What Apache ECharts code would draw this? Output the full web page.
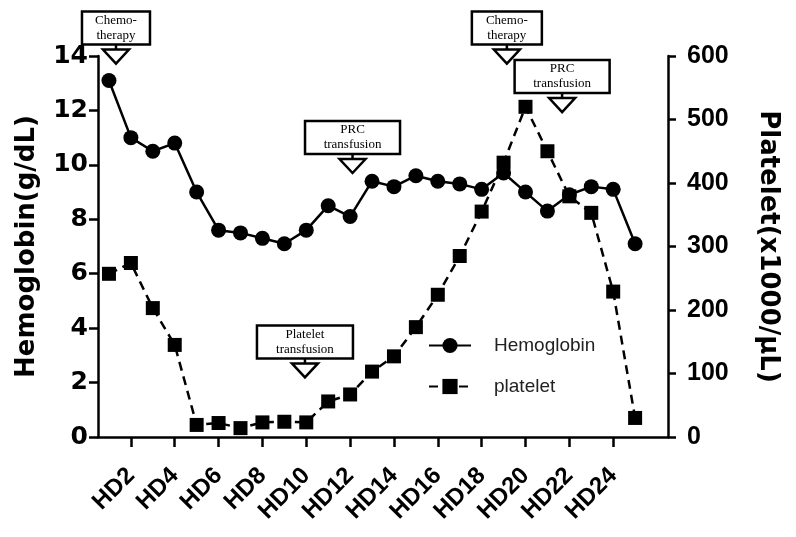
<!DOCTYPE html>
<html>
<head>
<meta charset="utf-8">
<script src="https://cdn.jsdelivr.net/npm/echarts@6/dist/echarts.min.js"></script>
<style>
  html, body { margin: 0; padding: 0; background: #fff; }
  #main { width: 796px; height: 537px; }
</style>
</head>
<body>
<div id="main"></div>
<script>
  // hospital day of each measurement
  const days = [1, 2, 3, 4, 5, 6, 7, 8, 9, 10, 11, 12, 13, 14, 15, 16, 17, 18, 19, 20, 21, 22, 23, 24, 25];
  // g/dL
  const hemoglobin = [13.1, 11.0, 10.5, 10.8, 9.0, 7.6, 7.5, 7.3, 7.1, 7.6, 8.5, 8.1, 9.4, 9.2, 9.6, 9.4, 9.3, 9.1, 9.7, 9.0, 8.3, 8.9, 9.2, 9.1, 7.1];
  // x1000/uL
  const platelet = [257, 274, 203, 145, 19, 22, 14, 23, 24, 23, 56, 67, 103, 127, 173, 224, 285, 355, 432, 520, 450, 379, 353, 229, 30];
  // labelled days on the x axis
  const tickDays = [2, 4, 6, 8, 10, 12, 14, 16, 18, 20, 22, 24];

  // event notes: text, day, and hemoglobin level where the arrow points
  const notes = ['Chemo-\ntherapy', 'PRC\ntransfusion', 'Platelet\ntransfusion', 'Chemo-\ntherapy', 'PRC\ntransfusion'];
  const noteDays = [1.32, 12.11, 9.94, 19.15, 21.67];
  const noteLevels = [13.72, 9.7, 2.19, 13.72, 11.94];
  const noteBoxW = [68, 95, 96, 70, 95];

  let chart = echarts.init(document.getElementById('main'));

  const axisFont = 'DejaVu Sans';
  const armFont = 'Liberation Sans';

  chart.setOption({
    animation: false,
    backgroundColor: '#fff',
    grid: { left: 98, right: 128, top: 56, bottom: 100 },
    legend: {
      data: ['Hemoglobin', 'platelet'],
      orient: 'vertical',
      left: 428,
      top: 336,
      padding: 0,
      itemWidth: 42,
      itemHeight: 19,
      itemGap: 22,
      textStyle: { fontSize: 19, fontFamily: armFont, color: '#222', padding: [0, 0, 0, 18] }
    },
    xAxis: {
      type: 'value',
      min: 0.5,
      max: 26.5,
      splitLine: { show: false },
      axisLine: { show: true, onZero: false, lineStyle: { color: '#000', width: 2.5 } },
      axisTick: { show: true, customValues: tickDays, length: 10, lineStyle: { color: '#000', width: 2.5 } },
      axisLabel: {
        customValues: tickDays,
        rotate: 45,
        margin: 35,
        color: '#000',
        fontSize: 24,
        fontWeight: 'bold',
        fontFamily: armFont,
        formatter: v => 'HD' + v
      }
    },
    yAxis: [
      {
        type: 'value',
        min: 0,
        max: 14,
        interval: 2,
        name: 'Hemoglobin(g/dL)',
        nameLocation: 'middle',
        nameGap: 58,
        nameTextStyle: { fontSize: 26, fontWeight: 'bold', fontFamily: axisFont, color: '#000' },
        splitLine: { show: false },
        axisLine: { show: true, lineStyle: { color: '#000', width: 2.5 } },
        axisTick: { show: true, length: 9, lineStyle: { color: '#000', width: 2.5 } },
        axisLabel: { margin: 10, color: '#000', fontSize: 25, fontWeight: 'bold', fontFamily: axisFont }
      },
      {
        type: 'value',
        position: 'right',
        min: 0,
        max: 600,
        interval: 100,
        name: 'Platelet(x1000/\u03BCL)',
        nameLocation: 'middle',
        nameRotate: -90,
        nameGap: 87,
        nameTextStyle: { fontSize: 26, fontWeight: 'bold', fontFamily: axisFont, color: '#000' },
        splitLine: { show: false },
        axisLine: { show: true, lineStyle: { color: '#000', width: 2.5 } },
        axisTick: { show: true, length: 8, lineStyle: { color: '#000', width: 2.5 } },
        axisLabel: { margin: 19, color: '#000', fontSize: 25, fontWeight: 'bold', fontFamily: armFont }
      }
    ],
    series: [
      {
        name: 'Hemoglobin',
        type: 'line',
        yAxisIndex: 0,
        symbol: 'circle',
        symbolSize: 15,
        itemStyle: { color: '#000' },
        lineStyle: { color: '#000', width: 2.5 },
        data: days.map((d, i) => [d, hemoglobin[i]])
      },
      {
        name: 'platelet',
        type: 'line',
        yAxisIndex: 1,
        symbol: 'rect',
        symbolSize: 14,
        itemStyle: { color: '#000' },
        lineStyle: { color: '#000', width: 2.5, type: [9, 6] },
        data: days.map((d, i) => [d, platelet[i]])
      }
    ]
  });

  // boxes with arrows for the clinical events
  function drawNotes() {
    let els = [];
    notes.forEach((t, i) => {
      let p = chart.convertToPixel({ xAxisIndex: 0, yAxisIndex: 0 }, [noteDays[i], noteLevels[i]]);
      let x = p[0], y = p[1];
      let triTop = y - 14;
      let boxBottom = triTop - 5;
      let boxTop = boxBottom - 33;
      let w = noteBoxW[i];
      els.push({
        type: 'polygon',
        shape: { points: [[x - 13, triTop], [x + 13, triTop], [x, y]] },
        style: { fill: '#fff', stroke: '#000', lineWidth: 2.5 },
        z: 100
      });
      els.push({
        type: 'line',
        shape: { x1: x, y1: boxBottom, x2: x, y2: triTop },
        style: { stroke: '#000', lineWidth: 2.5 },
        z: 100
      });
      els.push({
        type: 'rect',
        shape: { x: x - w / 2, y: boxTop, width: w, height: 33 },
        style: { fill: '#fff', stroke: '#000', lineWidth: 2.5 },
        z: 100
      });
      els.push({
        type: 'text',
        x: x,
        y: boxTop + 16.5,
        style: {
          text: t,
          fill: '#000',
          font: '13px "Liberation Serif"',
          lineHeight: 15,
          align: 'center',
          verticalAlign: 'middle'
        },
        z: 101
      });
    });
    chart.setOption({ graphic: els });
  }

  drawNotes();
</script>
</body>
</html>
